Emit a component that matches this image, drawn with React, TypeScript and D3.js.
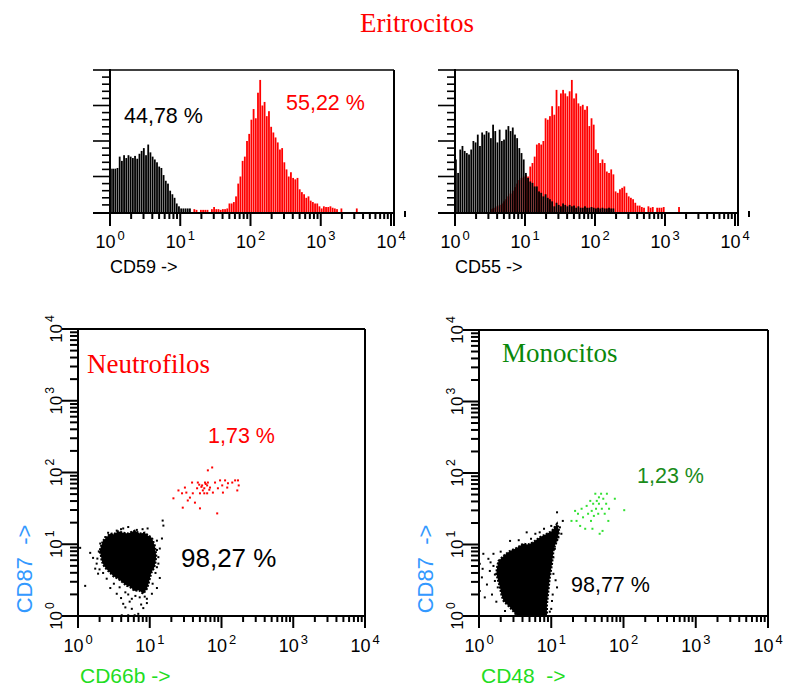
import React from 'react'
import * as d3 from 'd3'

const W = 787
const H = 686
const sans = '"Liberation Sans", Arial, sans-serif'
const serif = '"Liberation Serif", "Times New Roman", serif'

// histogram channels: 32 per decade, counts listed from a first channel index
const BINS = 32

const cd59NegStart = 0
const cd59NegCounts = [
    61, 61, 61, 62, 78, 72, 80, 76, 80, 78, 76, 79, 75, 82, 86, 90, 80, 95, 84,
    78, 74, 70, 64, 62, 52, 44, 40, 30, 25, 20, 12, 8, 5, 5, 5, 5, 5,
]
const cd59PosStart = 38
const cd59PosCounts = [
    4, 3, 0, 3, 3, 3, 3, 0, 4, 7, 4, 4, 3, 4, 4, 5, 12, 12, 14, 22, 40, 50, 72,
    78, 100, 110, 130, 145, 132, 168, 186, 150, 155, 135, 142, 120, 112, 105, 98,
    88, 90, 70, 60, 50, 56, 48, 46, 48, 32, 28, 25, 20, 22, 16, 14, 12, 12, 8, 5,
    8, 7, 7, 8, 6, 5, 4, 0, 5, 0, 0, 0, 0, 0, 0, 5,
]

const cd55NegStart = 0
const cd55NegCounts = [
    74, 55, 88, 93, 86, 83, 81, 88, 100, 98, 109, 93, 112, 109, 114, 112, 104,
    123, 114, 98, 116, 100, 102, 116, 121, 114, 119, 109, 104, 90, 83, 74, 55, 48,
    43, 41, 36, 36, 29, 27, 22, 25, 20, 18, 15, 8, 13, 10, 8, 12, 10, 8, 10, 8, 9,
    6, 8, 6, 6, 8, 6, 6, 7, 6, 5, 6, 5, 6, 5, 5, 6, 5, 5,
]
const cd55PosStart = 16
const cd55PosCounts = [
    4, 5, 6, 8, 10, 12, 15, 18, 22, 26, 30, 35, 40, 45, 48, 50, 52, 50, 64, 69,
    78, 95, 97, 95, 100, 132, 130, 135, 149, 137, 172, 149, 167, 172, 167, 163,
    170, 186, 160, 167, 153, 149, 151, 144, 149, 121, 132, 123, 88, 83, 69, 74,
    69, 57, 55, 60, 53, 29, 27, 32, 34, 36, 27, 22, 20, 18, 13, 9, 9, 7, 6, 0, 8,
    6, 7, 0, 6, 6, 6, 7, 0, 0, 0, 0, 0, 0, 7,
]

// dot plots, [log10 x, log10 y]
const neutroCore = [
    [0.35, 1.05], [0.4, 1.1], [0.45, 1.15], [0.5, 1.14], [0.56, 1.18],
    [0.63, 1.16], [0.7, 1.15], [0.79, 1.19], [0.86, 1.15], [0.93, 1.16],
    [0.98, 1.12], [1.03, 1.09], [1.07, 0.98], [1.09, 0.84], [1.08, 0.75],
    [1.06, 0.67], [1.02, 0.6], [1.0, 0.52], [0.98, 0.44], [0.96, 0.38],
    [0.91, 0.31], [0.85, 0.36], [0.79, 0.35], [0.72, 0.41], [0.68, 0.42],
    [0.62, 0.47], [0.56, 0.52], [0.5, 0.55], [0.45, 0.6], [0.4, 0.65],
    [0.36, 0.7], [0.33, 0.77], [0.32, 0.84], [0.3, 0.9], [0.32, 0.97],
]
const neutroDots = [
    [0.03, 0.95], [0.1, 0.42], [0.17, 0.88], [0.21, 0.81], [0.26, 0.73],
    [0.28, 0.59], [0.31, 1.01], [0.54, 1.19], [0.63, 1.22], [0.82, 1.2],
    [1.1, 1.05], [1.14, 0.94], [1.17, 1.08], [1.19, 1.26], [1.18, 1.33],
    [1.12, 0.73], [1.14, 0.53], [1.1, 0.39], [0.96, 0.18], [0.91, 0.11],
    [0.75, 0.1], [0.63, 0.17], [0.61, 0.01], [0.7, 0.01], [0.79, 0.01],
    [0.84, 0.03], [0.54, 0.31], [0.45, 0.39], [0.4, 0.52], [0.96, 0.24],
    [1.03, 0.31], [1.05, 0.87], [0.24, 0.66], [0.29, 0.9], [0.38, 1.1],
    [0.5, 0.45], [0.6, 0.25], [0.72, 0.2], [0.88, 0.16], [1.08, 0.6],
    [1.12, 0.82], [0.97, 1.22], [0.7, 1.24], [0.86, 0.26], [0.27, 0.8],
    [0.3, 0.65], [0.35, 0.6], [0.42, 1.16], [0.6, 1.21], [0.9, 1.21],
    [1.1, 0.92], [1.1, 0.68], [1.04, 0.45], [0.93, 0.27], [0.8, 0.28],
    [0.66, 0.33], [0.58, 0.4], [0.7, 0.3], [0.75, 0.24], [0.66, 0.12],
]
const neutroPos = [
    [1.33, 1.64], [1.4, 1.75], [1.45, 1.71], [1.46, 1.51], [1.49, 1.79],
    [1.51, 1.72], [1.53, 1.61], [1.56, 1.65], [1.59, 1.86], [1.6, 1.71],
    [1.63, 1.58], [1.66, 1.78], [1.67, 1.86], [1.7, 1.71], [1.7, 1.5],
    [1.73, 1.82], [1.74, 1.75], [1.77, 1.86], [1.8, 1.82], [1.8, 1.71],
    [1.81, 2.03], [1.81, 1.86], [1.84, 1.79], [1.87, 2.07], [1.88, 1.72],
    [1.91, 1.86], [1.94, 1.43], [1.95, 1.78], [1.98, 1.89], [2.01, 1.82],
    [2.02, 1.72], [2.05, 1.89], [2.08, 1.79], [2.09, 1.85], [2.15, 1.86],
    [2.19, 1.89], [2.22, 1.75], [2.24, 1.82], [2.23, 1.89], [1.72, 1.8],
    [1.76, 1.78], [1.78, 1.84], [1.69, 1.83], [1.83, 1.76], [1.76, 1.71],
]

const monoCore = [
    [0.27, 0.77], [0.35, 0.85], [0.43, 0.91], [0.52, 0.95], [0.61, 1.01],
    [0.68, 1.0], [0.75, 1.03], [0.84, 1.1], [0.94, 1.15], [1.01, 1.19],
    [1.08, 1.29], [1.11, 1.19], [1.08, 1.05], [1.05, 0.98], [1.03, 0.91],
    [1.01, 0.73], [0.98, 0.54], [0.97, 0.45], [0.96, 0.35], [0.94, 0.16],
    [0.94, 0.01], [0.52, 0.01], [0.43, 0.12], [0.34, 0.21], [0.31, 0.3],
    [0.29, 0.4], [0.24, 0.59], [0.25, 0.68],
]
const monoDots = [
    [0.01, 0.73], [0.04, 0.54], [0.06, 0.87], [0.08, 0.26], [0.11, 0.44],
    [0.13, 0.8], [0.15, 0.63], [0.18, 0.3], [0.2, 0.87], [0.22, 0.49],
    [0.01, 0.35], [0.43, 1.05], [0.66, 1.17], [0.78, 1.15], [1.08, 1.45],
    [1.12, 1.24], [1.14, 1.15], [1.08, 0.4], [1.03, 0.59], [1.01, 0.21],
    [0.5, 0.12], [0.57, 0.02], [0.43, 0.21], [1.03, 0.82], [1.05, 0.94],
    [0.05, 0.66], [0.16, 0.75], [0.24, 0.2], [1.0, 1.26], [0.9, 1.22],
    [1.06, 0.5], [0.98, 0.06], [0.36, 0.07], [1.16, 1.33], [0.2, 0.7],
    [0.22, 0.58], [0.26, 0.4], [0.3, 0.9], [0.55, 1.06], [0.72, 1.08],
    [0.84, 1.17], [1.02, 0.3], [1.0, 0.1], [0.98, 0.65], [1.1, 1.1],
]
const monoPos = [
    [1.28, 1.33], [1.33, 1.47], [1.37, 1.43], [1.4, 1.26], [1.42, 1.5],
    [1.44, 1.38], [1.47, 1.22], [1.49, 1.54], [1.51, 1.43], [1.54, 1.61],
    [1.55, 1.33], [1.56, 1.47], [1.57, 1.22], [1.58, 1.57], [1.59, 1.4],
    [1.61, 1.71], [1.62, 1.5], [1.63, 1.61], [1.65, 1.43], [1.66, 1.57],
    [1.67, 1.15], [1.69, 1.71], [1.7, 1.5], [1.71, 1.19], [1.72, 1.64],
    [1.74, 1.43], [1.76, 1.57], [1.77, 1.71], [1.79, 1.33], [1.8, 1.5],
    [1.88, 1.64], [2.01, 1.48], [1.35, 1.33], [1.66, 1.66],
]

const decades = [0, 1, 2, 3, 4]
const minorTicks = [1, 10, 100, 1000].flatMap((d) =>
    [2, 3, 4, 5, 6, 7, 8, 9].map((k) => k * d)
)

const Pow = ({ x, y, e, size = 18, rotate = false }) => (
    <text
        transform={`translate(${x},${y})${rotate ? ' rotate(-90)' : ''}`}
        textAnchor="middle"
        fontFamily={sans}
        fontSize={size}
    >
        10
        <tspan dx={2} dy={-8} fontSize={size * 0.72}>
            {e}
        </tspan>
    </text>
)

function Histogram({ x0, x1, xr, top, bottom, series, label }) {
    const x = d3.scaleLog().domain([1, 1e4]).range([x0, x1])
    const y = d3.scaleLinear().domain([0, 200]).range([bottom - 1, top])
    const binW = (x1 - x0) / 4 / BINS
    const yTicks = d3.range(0, 201, 10)

    return (
        <g>
            {series.map((s, si) => (
                <g key={si} fill={s.color}>
                    {s.counts.map((c, i) =>
                        c > 0 ? (
                            <rect
                                key={i}
                                x={x(10 ** ((s.start + i) / BINS))}
                                y={y(c)}
                                width={binW * 0.82}
                                height={y(0) - y(c)}
                            />
                        ) : null
                    )}
                </g>
            ))}
            <g stroke="#000" strokeWidth={2}>
                <line x1={x0} y1={top} x2={xr} y2={top} strokeWidth={1.6} />
                <line x1={xr} y1={top} x2={xr} y2={bottom + 13} />
                <line x1={x0} y1={top - 1} x2={x0} y2={bottom + 13} />
                <line x1={x0 - 17} y1={bottom} x2={xr} y2={bottom} />
                {yTicks.map((t) => (
                    <line
                        key={t}
                        x1={t % 50 === 0 ? x0 - 17 : x0 - 8}
                        x2={x0}
                        y1={y(t) + (t === 0 ? 1 : 0)}
                        y2={y(t) + (t === 0 ? 1 : 0)}
                        strokeWidth={1.6}
                    />
                ))}
                {minorTicks.map((t) => (
                    <line key={t} x1={x(t)} x2={x(t)} y1={bottom} y2={bottom + 6} />
                ))}
                {decades.map((d) => (
                    <line key={d} x1={x(10 ** d)} x2={x(10 ** d)} y1={bottom} y2={bottom + 13} />
                ))}
                <line x1={xr + 11} x2={xr + 11} y1={bottom - 2} y2={bottom + 4} />
            </g>
            {decades.map((d) => (
                <Pow key={d} x={x(10 ** d)} y={bottom + 35} e={d} />
            ))}
            <text x={x0} y={bottom + 60} fontFamily={sans} fontSize={18} style={{ whiteSpace: 'pre' }}>
                {label}
            </text>
        </g>
    )
}

function DotPlot({ x0, x1, top, bottom, core, dots, pos, posColor, xLabel, yLabelX }) {
    const x = d3.scaleLog().domain([1, 1e4]).range([x0, x1])
    const y = d3.scaleLog().domain([1, 1e4]).range([bottom, top])
    const px = (e) => x(10 ** e)
    const py = (e) => y(10 ** e)
    const blob = d3
        .line()
        .x((d) => px(d[0]))
        .y((d) => py(d[1]))
        .curve(d3.curveLinearClosed)

    return (
        <g>
            <path
                d={blob(core)}
                fill="#000"
                stroke="#000"
                strokeWidth={2.2}
                strokeDasharray="2 1.5"
            />
            {dots.map((d, i) => (
                <rect key={i} x={px(d[0]) - 1} y={py(d[1]) - 1} width={2} height={2} fill="#000" />
            ))}
            {pos.map((d, i) => (
                <rect key={i} x={px(d[0]) - 1} y={py(d[1]) - 1} width={2} height={2} fill={posColor} />
            ))}
            <g stroke="#000" strokeWidth={2}>
                <line x1={x0} y1={top} x2={x1} y2={top} />
                <line x1={x1} y1={top} x2={x1} y2={bottom + 12} />
                <line x1={x0} y1={top - 1} x2={x0} y2={bottom + 12} />
                <line x1={x0 - 16} y1={bottom} x2={x1} y2={bottom} />
                {minorTicks.map((t) => (
                    <g key={t}>
                        <line x1={x(t)} x2={x(t)} y1={bottom} y2={bottom + 6} />
                        <line x1={x0 - 8} x2={x0} y1={y(t)} y2={y(t)} />
                    </g>
                ))}
                {decades.map((d) => (
                    <g key={d}>
                        <line x1={x(10 ** d)} x2={x(10 ** d)} y1={bottom} y2={bottom + 12} />
                        <line x1={x0 - 16} x2={x0} y1={y(10 ** d)} y2={y(10 ** d)} />
                    </g>
                ))}
            </g>
            {decades.map((d) => (
                <g key={d}>
                    <Pow x={x(10 ** d)} y={bottom + 36} e={d} />
                    <Pow x={x0 - 16} y={y(10 ** d)} e={d} size={17} rotate />
                </g>
            ))}
            <text x={x0 + 2} y={bottom + 67} fontFamily={sans} fontSize={21} fill="#22dd22" style={{ whiteSpace: 'pre' }}>
                {xLabel}
            </text>
            <text
                transform={`translate(${yLabelX},${bottom - 47}) rotate(-90)`}
                textAnchor="middle"
                fontFamily={sans}
                fontSize={22}
                fill="#3399ff"
                style={{ whiteSpace: 'pre' }}
            >
                CD87  -&gt;
            </text>
        </g>
    )
}

export default function App() {
    return (
        <svg width={W} height={H} style={{ display: 'block', position: 'absolute', left: 0, top: 0 }}>
            <rect width={W} height={H} fill="#fff" />
            <text x={417} y={32} textAnchor="middle" fontFamily={serif} fontSize={27} fill="#ff0000">
                Eritrocitos
            </text>

            <Histogram
                x0={110}
                x1={391}
                xr={394}
                top={70}
                bottom={213}
                label="CD59 ->"
                series={[
                    { start: cd59NegStart, counts: cd59NegCounts, color: '#000' },
                    { start: cd59PosStart, counts: cd59PosCounts, color: '#ff0000' },
                ]}
            />
            <text x={124} y={123} fontFamily={sans} fontSize={21.5}>44,78 %</text>
            <text x={286} y={110} fontFamily={sans} fontSize={21.5} fill="#ff0000">55,22 %</text>

            <Histogram
                x0={455}
                x1={735}
                xr={738}
                top={70}
                bottom={213}
                label="CD55 ->"
                series={[
                    { start: cd55PosStart, counts: cd55PosCounts, color: '#ff0000' },
                    { start: cd55NegStart, counts: cd55NegCounts, color: '#000' },
                ]}
            />

            <DotPlot
                x0={78}
                x1={365}
                top={329}
                bottom={616}
                core={neutroCore}
                dots={neutroDots}
                pos={neutroPos}
                posColor="#ff0000"
                xLabel="CD66b ->"
                yLabelX={32}
            />
            <text x={87} y={373} fontFamily={serif} fontSize={27} fill="#ff0000">Neutrofilos</text>
            <text x={208} y={443} fontFamily={sans} fontSize={21.5} fill="#ff0000">1,73 %</text>
            <text x={181} y={567} fontFamily={sans} fontSize={26}>98,27 %</text>

            <DotPlot
                x0={479}
                x1={768}
                top={330}
                bottom={616}
                core={monoCore}
                dots={monoDots}
                pos={monoPos}
                posColor="#33e033"
                xLabel="CD48  ->"
                yLabelX={433}
            />
            <text x={502} y={362} fontFamily={serif} fontSize={27} fill="#0a880a">Monocitos</text>
            <text x={637} y={483} fontFamily={sans} fontSize={21.5} fill="#1a8c1a">1,23 %</text>
            <text x={571} y={592} fontFamily={sans} fontSize={21.5}>98,77 %</text>
        </svg>
    )
}
